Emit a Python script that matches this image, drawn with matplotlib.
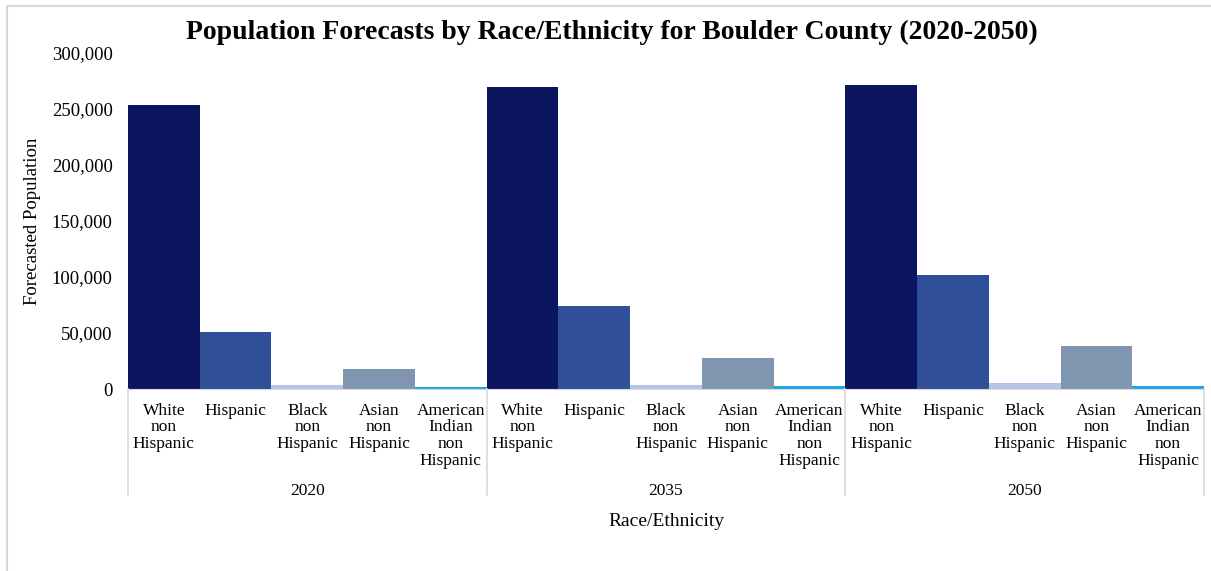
import matplotlib.pyplot as plt
from matplotlib.lines import Line2D
from matplotlib.ticker import FuncFormatter

plt.rcParams['font.family'] = ['Liberation Serif', 'DejaVu Serif']

# Data
years = ['2020', '2035', '2050']
groups = ['White\nnon\nHispanic', 'Hispanic', 'Black\nnon\nHispanic',
          'Asian\nnon\nHispanic', 'American\nIndian\nnon\nHispanic']
white = [254000, 270000, 271000]
hispanic = [51000, 74000, 102000]
black = [3500, 3800, 5000]
asian = [17800, 27500, 38500]
amindian = [2200, 2300, 2400]
colors = ['#0c1560', '#2f4f99', '#b3c4e8', '#8096b0', '#1ba8e6']

series = [white, hispanic, black, asian, amindian]

fig = plt.figure(figsize=(12.11, 5.71), dpi=100)
ax = fig.add_axes([128 / 1211, 1 - 389 / 571, (1204 - 128) / 1211, (389 - 53) / 571])

n = len(groups)
for yi in range(len(years)):
    for gi in range(n):
        ax.bar(yi * n + gi, series[gi][yi], width=1.0, color=colors[gi],
               edgecolor='none', align='center')

ax.set_xlim(-0.5, len(years) * n - 0.5)
ax.set_ylim(0, 300000)
ax.set_yticks(range(0, 300001, 50000))
ax.yaxis.set_major_formatter(FuncFormatter(lambda v, p: f'{int(v):,}'))
ax.tick_params(axis='y', length=0, labelsize=13.5, pad=11)
ax.tick_params(axis='x', length=0, labelbottom=False)
for s in ['top', 'right', 'left']:
    ax.spines[s].set_visible(False)
ax.spines['bottom'].set_color('#d9d9d9')

# category labels and year labels below the axis
for yi, yr in enumerate(years):
    for gi, g in enumerate(groups):
        ax.annotate(g, xy=(yi * n + gi, 0), xycoords=('data', 'axes fraction'),
                    xytext=(0, -10), textcoords='offset points', ha='center', va='top',
                    fontsize=12.5, linespacing=1.05)
    ax.annotate(yr, xy=(yi * n + (n - 1) / 2, 0), xycoords=('data', 'axes fraction'),
                xytext=(0, -68), textcoords='offset points', ha='center', va='top',
                fontsize=12.5)

# group separators
for xi in range(len(years) + 1):
    xd = xi * n - 0.5
    ax.add_line(Line2D([xd, xd], [0, -0.315], transform=ax.get_xaxis_transform(),
                       color='#d9d9d9', lw=1.2, clip_on=False))

ax.set_xlabel('Race/Ethnicity', fontsize=14, labelpad=89)
ax.set_ylabel('Forecasted Population', fontsize=13.5, labelpad=8)

fig.text(612 / 1211, 1 - 32 / 571, 'Population Forecasts by Race/Ethnicity for Boulder County (2020-2050)',
         ha='center', va='center', fontsize=20, fontweight='bold')

# light border of the chart area
fig.add_artist(Line2D([7 / 1211, 1], [1 - 5.5 / 571, 1 - 5.5 / 571], color='#d9d9d9', lw=1.5))
fig.add_artist(Line2D([7 / 1211, 7 / 1211], [0, 1 - 5.5 / 571], color='#d9d9d9', lw=1.5))

fig.savefig('out.png', dpi=100)
